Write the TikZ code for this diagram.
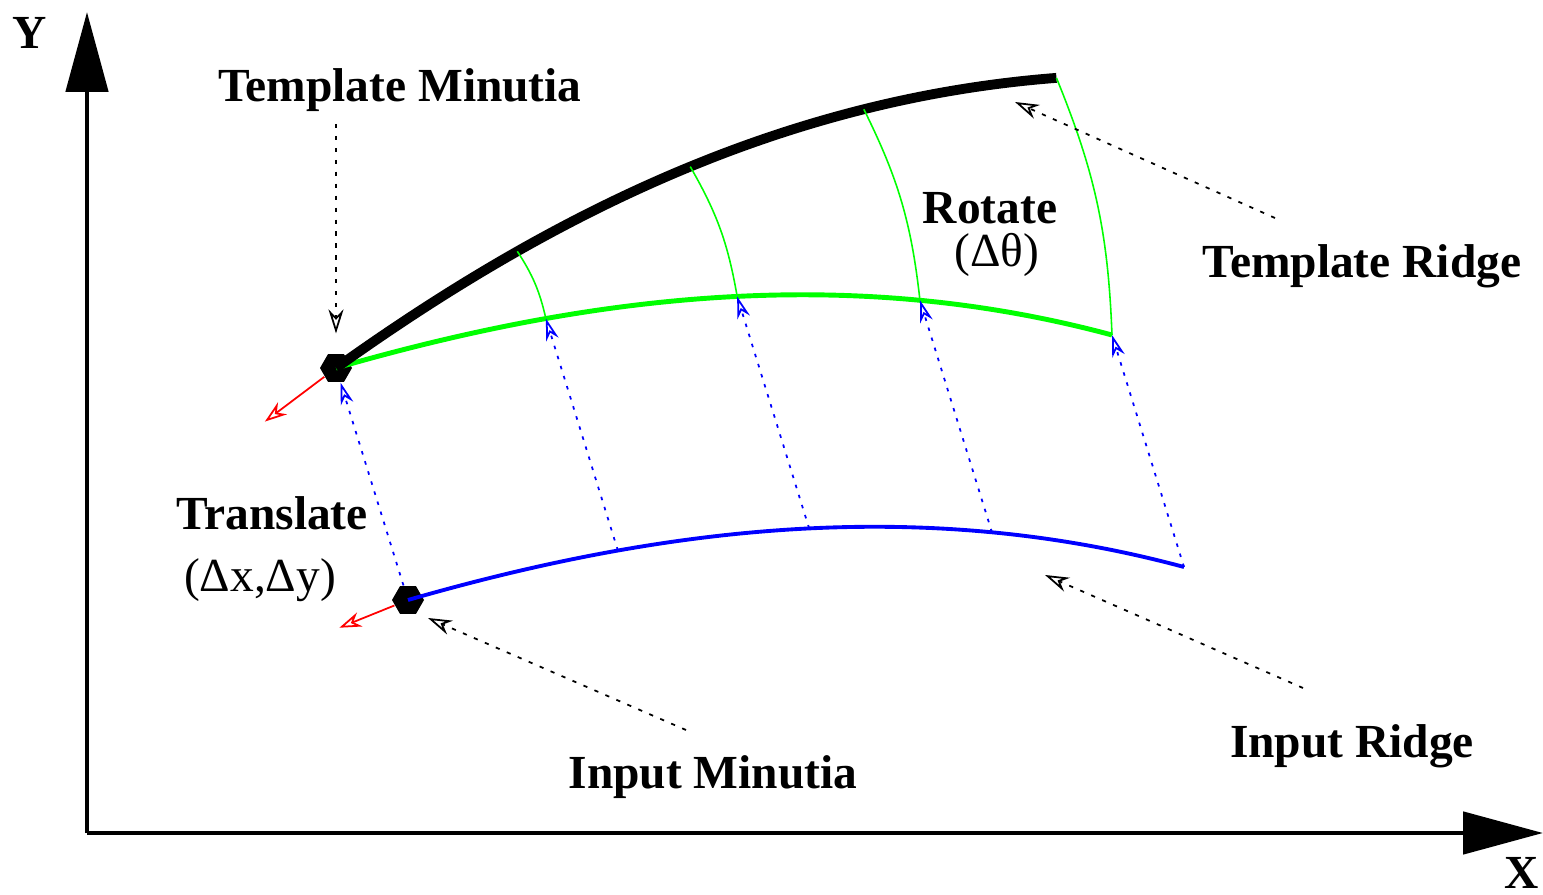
\documentclass[tikz,border=0pt]{standalone}
\usepackage{fontspec}
\setmainfont{Liberation Serif}
\usetikzlibrary{arrows.meta,shapes.geometric}

\begin{document}
\begin{tikzpicture}[
  lbl/.style={font=\fontsize{13.5}{15}\selectfont\bfseries},
  val/.style={font=\fontsize{13.5}{15}\selectfont},
  axisline/.style={line width=1.4pt, -{Triangle[length=0.8cm,width=0.42cm]}},
  minutia/.style={regular polygon, regular polygon sides=6, fill=black, minimum size=0.32cm, inner sep=0pt},
  rotarc/.style={green, line width=0.45pt},
  movearr/.style={blue, line width=0.5pt, dash pattern=on 1pt off 2pt, -{Stealth[open,length=2.2mm,width=1.3mm]}},
  dirarr/.style={red, line width=0.5pt, -{Stealth[open,length=2.2mm,width=1.5mm]}},
  pointer/.style={line width=0.5pt, dash pattern=on 1.2pt off 2.2pt, -{Stealth[open,length=2.4mm,width=1.5mm]}}
]
  \useasboundingbox (0,0) rectangle (15.43,8.94);

  % Axes
  \coordinate (o) at (0.87,0.61);
  \coordinate (ytip) at (0.87,8.82);
  \coordinate (xtip) at (15.43,0.61);
  \draw[axisline] (o) -- (ytip);
  \draw[axisline] (o) -- (xtip);
  \node[lbl] (ylbl) at (0.30,8.61) {Y};
  \node[lbl] (xlbl) at (15.22,0.21) {X};

  % Minutiae
  \node[minutia] (tmin) at (3.36,5.26) {};
  \node[minutia] (imin) at (4.08,2.94) {};

  % Input ridge
  \begin{scope}[shift={(imin.center)}]
    \draw[blue, line width=1.1pt] (0,0) .. controls (2.60,0.75) and (5.16,1.03) .. (7.76,0.33)
      coordinate[pos=0.27] (b1) coordinate[pos=0.517] (b2) coordinate[pos=0.753] (b3) coordinate[pos=1] (b4);
  \end{scope}

  % Translated ridge
  \begin{scope}[shift={(tmin.center)}]
    \draw[green, line width=1.4pt] (0,0) .. controls (2.60,0.75) and (5.16,1.03) .. (7.76,0.33)
      coordinate[pos=0.27] (g1) coordinate[pos=0.517] (g2) coordinate[pos=0.753] (g3) coordinate[pos=1] (g4);
  \end{scope}

  % Template ridge (rotated)
  \begin{scope}[shift={(tmin.center)}, rotate=19.5]
    \draw[black, line width=2.8pt] (0,0) .. controls (2.60,0.75) and (5.16,1.03) .. (7.76,0.33)
      coordinate[pos=0.27] (k1) coordinate[pos=0.517] (k2) coordinate[pos=0.753] (k3) coordinate[pos=1] (k4);
  \end{scope}

  % Rotation arcs
  \foreach \i in {1,...,4}
    \draw[rotarc] (g\i) to[bend right=10] (k\i);

  % Translation
  \draw[movearr] (imin) -- (tmin);
  \foreach \i in {1,...,4}
    \draw[movearr] (b\i) -- (g\i);

  % Minutia directions
  \path (tmin.center) ++(217:0.89) coordinate (tdir);
  \path (imin.center) ++(202:0.74) coordinate (idir);
  \draw[dirarr] (tmin) -- (tdir);
  \draw[dirarr] (imin) -- (idir);

  % Labels
  \node[lbl] (tmlbl) at (4.00,8.04) {Template Minutia};
  \node[lbl] (trlbl) at (13.62,6.28) {Template Ridge};
  \node[lbl] (irlbl) at (13.52,1.48) {Input Ridge};
  \node[lbl] (imlbl) at (7.13,1.17) {Input Minutia};
  \node[lbl] (rotlbl) at (9.90,6.86) {Rotate};
  \node[val] (rotval) at (9.97,6.39) {(Δθ)};
  \node[lbl] (trslbl) at (2.72,3.81) {Translate};
  \node[val] (trsval) at (2.60,3.14) {(Δx,Δy)};

  % Pointers
  \coordinate (trtail) at (12.75,6.76);
  \coordinate (trtip) at (10.15,7.92);
  \coordinate (irtail) at (13.03,2.06);
  \coordinate (irtip) at (10.45,3.19);
  \coordinate (imtail) at (6.86,1.64);
  \coordinate (imtip) at (4.28,2.76);
  \draw[pointer, shorten >=0.2cm] (tmlbl.south -| tmin) -- (tmin);
  \draw[pointer] (trtail) -- (trtip);
  \draw[pointer] (irtail) -- (irtip);
  \draw[pointer] (imtail) -- (imtip);
\end{tikzpicture}
\end{document}
